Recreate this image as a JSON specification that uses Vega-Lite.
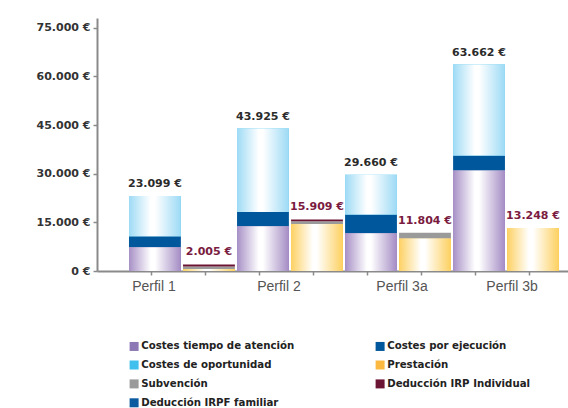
{
  "$schema": "https://vega.github.io/schema/vega-lite/v6.json",
  "width": 471,
  "height": 253,
  "autosize": {"type": "none"},
  "padding": {"left": 97, "top": 18, "right": 0, "bottom": 137},
  "background": "white",
  "config": {"view": {"stroke": null}},
  "data": {
    "values": [
      {"barra": "Perfil 1 - costes", "tipo": "c", "serie": "Costes tiempo de atención", "orden": 1, "valor": 7300},
      {"barra": "Perfil 1 - costes", "tipo": "c", "serie": "Costes por ejecución", "orden": 2, "valor": 3400},
      {"barra": "Perfil 1 - costes", "tipo": "c", "serie": "Costes de oportunidad", "orden": 3, "valor": 12399},
      {"barra": "Perfil 1 - ayudas", "tipo": "b", "serie": "Prestación", "orden": 4, "valor": 600},
      {"barra": "Perfil 1 - ayudas", "tipo": "b", "serie": "Subvención", "orden": 5, "valor": 800},
      {"barra": "Perfil 1 - ayudas", "tipo": "b", "serie": "Deducción IRP Individual", "orden": 6, "valor": 605},
      {"barra": "Perfil 2 - costes", "tipo": "c", "serie": "Costes tiempo de atención", "orden": 1, "valor": 13770},
      {"barra": "Perfil 2 - costes", "tipo": "c", "serie": "Costes por ejecución", "orden": 2, "valor": 4400},
      {"barra": "Perfil 2 - costes", "tipo": "c", "serie": "Costes de oportunidad", "orden": 3, "valor": 25755},
      {"barra": "Perfil 2 - ayudas", "tipo": "b", "serie": "Prestación", "orden": 4, "valor": 14500},
      {"barra": "Perfil 2 - ayudas", "tipo": "b", "serie": "Subvención", "orden": 5, "valor": 800},
      {"barra": "Perfil 2 - ayudas", "tipo": "b", "serie": "Deducción IRP Individual", "orden": 6, "valor": 609},
      {"barra": "Perfil 3a - costes", "tipo": "c", "serie": "Costes tiempo de atención", "orden": 1, "valor": 11600},
      {"barra": "Perfil 3a - costes", "tipo": "c", "serie": "Costes por ejecución", "orden": 2, "valor": 5850},
      {"barra": "Perfil 3a - costes", "tipo": "c", "serie": "Costes de oportunidad", "orden": 3, "valor": 12210},
      {"barra": "Perfil 3a - ayudas", "tipo": "b", "serie": "Prestación", "orden": 4, "valor": 10054},
      {"barra": "Perfil 3a - ayudas", "tipo": "b", "serie": "Subvención", "orden": 5, "valor": 1750},
      {"barra": "Perfil 3b - costes", "tipo": "c", "serie": "Costes tiempo de atención", "orden": 1, "valor": 31000},
      {"barra": "Perfil 3b - costes", "tipo": "c", "serie": "Costes por ejecución", "orden": 2, "valor": 4630},
      {"barra": "Perfil 3b - costes", "tipo": "c", "serie": "Costes de oportunidad", "orden": 3, "valor": 28032},
      {"barra": "Perfil 3b - ayudas", "tipo": "b", "serie": "Prestación", "orden": 4, "valor": 13248}
    ]
  },
  "transform": [
    {"stack": "valor", "groupby": ["barra"], "sort": [{"field": "orden", "order": "ascending"}], "as": ["y0", "y1"]}
  ],
  "encoding": {
    "x": {
      "field": "barra",
      "type": "nominal",
      "sort": null,
      "scale": {
        "domain": ["Perfil 1 - costes", "Perfil 1 - ayudas", "Perfil 2 - costes", "Perfil 2 - ayudas", "Perfil 3a - costes", "Perfil 3a - ayudas", "Perfil 3b - costes", "Perfil 3b - ayudas"],
        "paddingInner": 0.04,
        "paddingOuter": 0.38,
        "align": 0.78
      },
      "axis": {
        "title": null,
        "labels": false,
        "bandPosition": 0.43,
        "tickSize": 4,
        "tickColor": "#8a8a8a",
        "tickWidth": 1.5,
        "domainColor": "#8a8a8a",
        "domainWidth": 2
      }
    },
    "y": {
      "field": "y0",
      "type": "quantitative",
      "scale": {"domain": [0, 78000], "nice": false},
      "axis": {
        "title": null,
        "grid": false,
        "values": [0, 15000, 30000, 45000, 60000, 75000],
        "labelExpr": "replace(format(datum.value, ',d'), ',', '.') + ' €'",
        "labelFont": "DejaVu Sans",
        "labelFontWeight": "bold",
        "labelFontSize": 11,
        "labelColor": "#333333",
        "labelPadding": 3,
        "tickSize": 4,
        "tickColor": "#8a8a8a",
        "tickWidth": 1.5,
        "domainColor": "#8a8a8a",
        "domainWidth": 2
      }
    },
    "y2": {"field": "y1"}
  },
  "layer": [
    {
      "mark": {"type": "bar"},
      "encoding": {
        "color": {
          "field": "serie",
          "type": "nominal",
          "scale": {
            "domain": ["Costes tiempo de atención", "Costes por ejecución", "Costes de oportunidad", "Prestación", "Subvención", "Deducción IRP Individual", "Deducción IRPF familiar"],
            "range": ["#8c78b4", "#00579b", "#41c0ee", "#fbb942", "#9a9a9a", "#6c1433", "#0a5aa0"]
          },
          "legend": {
            "title": null,
            "orient": "none",
            "legendX": 32,
            "legendY": 323,
            "direction": "horizontal",
            "columns": 2,
            "symbolType": "square",
            "symbolSize": 81,
            "symbolStrokeWidth": 0,
            "labelFont": "DejaVu Sans",
            "labelFontWeight": "bold",
            "labelFontSize": 10.2,
            "labelColor": "#222222",
            "labelOffset": 2,
            "labelLimit": 300,
            "columnPadding": 80,
            "rowPadding": 7.9,
            "padding": 0
          }
        }
      }
    },
    {
      "transform": [{"filter": "datum.serie == 'Costes tiempo de atención'"}],
      "mark": {
        "type": "bar",
        "color": {"gradient": "linear", "x1": 0, "y1": 0, "x2": 1, "y2": 0,
          "stops": [
            {"offset": 0, "color": "#a790c6"},
            {"offset": 0.42, "color": "#ffffff"},
            {"offset": 0.5, "color": "#ffffff"},
            {"offset": 1, "color": "#a48cc4"}
          ]}
      }
    },
    {
      "transform": [{"filter": "datum.serie == 'Costes de oportunidad'"}],
      "mark": {
        "type": "bar",
        "color": {"gradient": "linear", "x1": 0, "y1": 0, "x2": 1, "y2": 0,
          "stops": [
            {"offset": 0, "color": "#9edbf5"},
            {"offset": 0.42, "color": "#ffffff"},
            {"offset": 0.5, "color": "#ffffff"},
            {"offset": 1, "color": "#9cdaf5"}
          ]}
      }
    },
    {
      "transform": [{"filter": "datum.serie == 'Prestación'"}],
      "mark": {
        "type": "bar",
        "color": {"gradient": "linear", "x1": 0, "y1": 0, "x2": 1, "y2": 0,
          "stops": [
            {"offset": 0, "color": "#fdd163"},
            {"offset": 0.42, "color": "#ffffff"},
            {"offset": 0.5, "color": "#ffffff"},
            {"offset": 1, "color": "#fdd05f"}
          ]}
      }
    },
    {
      "transform": [
        {"aggregate": [{"op": "sum", "field": "valor", "as": "total"}], "groupby": ["barra", "tipo"]},
        {"calculate": "replace(format(datum.total, ',d'), ',', '.') + ' €'", "as": "etiqueta"}
      ],
      "mark": {"type": "text", "font": "DejaVu Sans", "fontWeight": "bold", "fontSize": 11, "baseline": "middle", "dy": -12},
      "encoding": {
        "y": {"field": "total", "type": "quantitative"},
        "y2": null,
        "text": {"field": "etiqueta"},
        "color": {"condition": {"test": "datum.tipo == 'b'", "value": "#7a1b3f"}, "value": "#2b2b2b"}
      }
    },
    {
      "transform": [
        {"filter": "datum.orden == 1"},
        {"calculate": "split(datum.barra, ' - ')[0]", "as": "perfil"}
      ],
      "mark": {
        "type": "text",
        "font": "Liberation Sans",
        "fontSize": 14,
        "color": "#555555",
        "baseline": "middle",
        "dy": 16,
        "dx": {"expr": "datum.perfil == 'Perfil 1' ? -1 : datum.perfil == 'Perfil 2' ? 16 : datum.perfil == 'Perfil 3a' ? 31 : 33"}
      },
      "encoding": {
        "y": {"datum": 0},
        "y2": null,
        "text": {"field": "perfil"}
      }
    }
  ]
}
